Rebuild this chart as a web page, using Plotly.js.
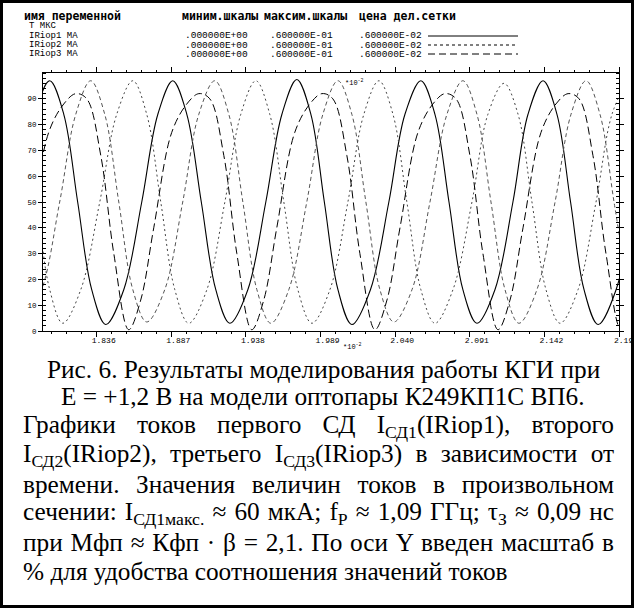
<!DOCTYPE html>
<html><head><meta charset="utf-8">
<script src="https://cdn.plot.ly/plotly-3.0.1.min.js"></script>
<style>html,body{margin:0;padding:0;background:#fff;}#chart{width:634px;height:608px;}</style>
</head><body><div id="chart"></div>
<script>
// ---- axis ticks ----
const xTickVals = [1.836, 1.887, 1.938, 1.989, 2.040, 2.091, 2.142, 2.193];
const xTickText = ["1.836", "1.887", "1.938", "1.989", "2.040", "2.091", "2.142", "2.193"];
const yTickVals = [0, 10, 20, 30, 40, 50, 60, 70, 80, 90];
const yTickText = ["0", "10", "20", "30", "40", "50", "60", "70", "80", "90"];

// ---- series (T, мкс*10^-2 ; current, % of scale) ----
const tIRiop1 = [1.7581,1.7704,1.7827,1.7936,1.8039,1.8135,1.8230,1.8326,1.8422,1.8545,1.8668,1.8778,1.8880,1.8976,1.9075,1.9174,1.9270,1.9393,1.9516,1.9626,1.9728,1.9824,1.9916,2.0009,2.0104,2.0231,2.0357,2.0467,2.0576,2.0672,2.0768,2.0863,2.0959,2.1082,2.1205,2.1308,2.1411,2.1506,2.1599,2.1691,2.1787,2.1910,2.2033];
const IRiop1  = [3,16,50,84,97,84,50,16,2.5,16,50,84,97,84,50,16,3,16,50,84,97.5,84,50,16,2.5,16,50,84,97,84,50,16,3,16,50,84,97,84,50,16,2.5,16,50];

const tIRiop2 = [1.7478,1.7574,1.7670,1.7765,1.7861,1.7984,1.8107,1.8217,1.8319,1.8415,1.8511,1.8607,1.8702,1.8825,1.8948,1.9058,1.9167,1.9263,1.9359,1.9455,1.9550,1.9673,1.9796,1.9906,2.0009,2.0104,2.0200,2.0296,2.0391,2.0515,2.0638,2.0754,2.0863,2.0959,2.1055,2.1151,2.1246,2.1369,2.1493,2.1602,2.1705,2.1800,2.1896,2.1992];
const IRiop2  = [97,84,50,16,3,16,50,84,97,84,50,16,3.5,16,50,84,97,84,50,16,3,16,50,84,97,84,50,16,3.5,16,50,84,97,84,50,16,3,16,50,84,97,84,50,16];

const tIRiop3 = [1.7546,1.7635,1.7738,1.7820,1.7909,1.8032,1.8135,1.8217,1.8292,1.8388,1.8477,1.8579,1.8661,1.8750,1.8873,1.8976,1.9058,1.9133,1.9229,1.9318,1.9420,1.9502,1.9591,1.9714,1.9817,1.9899,1.9974,2.0070,2.0159,2.0262,2.0344,2.0433,2.0556,2.0658,2.0740,2.0816,2.0911,2.1000,2.1103,2.1185,2.1274,2.1397,2.1499,2.1582,2.1657,2.1752,2.1841,2.1944,2.2026];
const IRiop3  = [68,30,0.5,12,40,77,88,92,90,68,30,0.5,12,40,77,88,92,90,68,30,0.5,12,40,77,88,92,90,68,30,0.5,12,40,77,88,92,90,68,30,0.5,12,40,77,88,92,90,68,30,0.5,12];

const tDotted = [1.7307,1.7430,1.7553,1.7663,1.7765,1.7858,1.7950,1.8039,1.8128,1.8251,1.8381,1.8497,1.8607,1.8702,1.8798,1.8894,1.8989,1.9113,1.9236,1.9345,1.9448,1.9543,1.9639,1.9735,1.9831,1.9954,2.0077,2.0186,2.0289,2.0385,2.0480,2.0576,2.0672,2.0795,2.0925,2.1034,2.1144,2.1240,2.1335,2.1431,2.1527,2.1650,2.1773,2.1882,2.1985];
const dotted  = [3,16,50,84,97,84,50,16,3,16,50,84,97,84,50,16,3,16,50,84,97,84,50,16,3,16,50,84,97,84,50,16,3,16,50,84,96,84,50,16,3,16,50,84,97];

// ---- texts ----
const headRow = ["имя переменной", "миним.шкалы", "максим.шкалы", "цена дел.сетки"];
const varNames = ["T МКС", "IRiop1 MA", "IRiop2 MA", "IRiop3 MA"];
const scaleMin = ".000000E+00";
const scaleMax = ".600000E-01";
const scaleDiv = ".600000E-02";
const captionCentered = [
  "Рис. 6. Результаты моделирования работы КГИ при",
  "Е = +1,2 В на модели оптопары К249КП1С ВП6."
];
const captionJustified = [
  "Графики токов первого СД I<sub>СД1</sub>(IRiop1), второго",
  "I<sub>СД2</sub>(IRiop2), третьего I<sub>СД3</sub>(IRiop3) в зависимости от",
  "времени. Значения величин токов в произвольном",
  "сечении: I<sub>СД1макс.</sub> ≈ 60 мкА; f<sub>Р</sub> ≈ 1,09 ГГц; τ<sub>З</sub> ≈ 0,09 нс",
  "при Мфп ≈ Кфп · β = 2,1. По оси Y введен масштаб в"
];
const captionLast = "% для удобства соотношения значений токов";

// ---- layout helpers (pixel -> paper) ----
const L = 43, R = 619, T = 73, B = 331;
const PX = p => (p - L) / (R - L);
const PY = p => (B - p) / (B - T);

const traces = [
  {x: tIRiop1, y: IRiop1, mode: 'lines', line: {color: '#000', width: 1.1, shape: 'spline'}},
  {x: tIRiop2, y: IRiop2, mode: 'lines', line: {color: '#555', width: 1, dash: '4px,3px', shape: 'spline'}},
  {x: tDotted, y: dotted, mode: 'lines', line: {color: '#444', width: 1, dash: '2px,3px', shape: 'spline'}},
  {x: tIRiop3, y: IRiop3, mode: 'lines', line: {color: '#000', width: 1, dash: '8px,4px', shape: 'spline'}}
];

const ann = [];
const mono = 'Liberation Mono';
const hx = [22, 180, 262, 357];
headRow.forEach((s, i) => ann.push({text: s, x: PX(hx[i]), y: PY(16), xref: 'paper', yref: 'paper',
  xanchor: 'left', yanchor: 'middle', showarrow: false, font: {family: 'DejaVu Sans Mono', size: 11.5, color: '#000', weight: 'bold'}}));
const rowY = [26, 36, 45, 54];
varNames.forEach((s, i) => {
  ann.push({text: s, x: PX(27), y: PY(rowY[i]), xref: 'paper', yref: 'paper', xanchor: 'left', yanchor: 'middle',
    showarrow: false, font: {family: mono, size: 9, color: '#000'}});
  if (i > 0) {
    [[scaleMin, 183], [scaleMax, 268], [scaleDiv, 357]].forEach(([t, xx]) => ann.push({text: t, x: PX(xx), y: PY(rowY[i]),
      xref: 'paper', yref: 'paper', xanchor: 'left', yanchor: 'middle', showarrow: false, font: {family: mono, size: 9.5, color: '#000'}}));
  }
});
ann.push({text: '*10<sup>-2</sup>', x: PX(352), y: PY(346), xref: 'paper', yref: 'paper', xanchor: 'center', yanchor: 'middle',
  showarrow: false, font: {family: mono, size: 7, color: '#000'}});
ann.push({text: '*10<sup>-2</sup>', x: PX(354), y: PY(83), xref: 'paper', yref: 'paper', xanchor: 'center', yanchor: 'middle',
  showarrow: false, font: {family: mono, size: 7, color: '#000'}});

const serif = {family: 'Liberation Serif', size: 25.3, color: '#000'};
const capY = [369, 396, 426, 455, 484, 513, 542, 571];
captionCentered.forEach((s, i) => ann.push({text: s, x: PX(323), y: PY(capY[i]), xref: 'paper', yref: 'paper',
  xanchor: 'center', yanchor: 'middle', showarrow: false, font: serif}));
const justStart = ann.length;
captionJustified.forEach((s, i) => ann.push({text: s, x: PX(21), y: PY(capY[i + 2]), xref: 'paper', yref: 'paper',
  xanchor: 'left', yanchor: 'middle', align: 'left', showarrow: false, font: serif}));
ann.push({text: captionLast, x: PX(21), y: PY(capY[7]), xref: 'paper', yref: 'paper', xanchor: 'left', yanchor: 'middle',
  align: 'left', showarrow: false, font: serif});

const shapes = [
  {type: 'line', xref: 'paper', yref: 'paper', x0: PX(428), x1: PX(518), y0: PY(36), y1: PY(36), line: {color: '#000', width: 1}},
  {type: 'line', xref: 'paper', yref: 'paper', x0: PX(428), x1: PX(518), y0: PY(45), y1: PY(45), line: {color: '#000', width: 1, dash: '3px,3px'}},
  {type: 'line', xref: 'paper', yref: 'paper', x0: PX(428), x1: PX(518), y0: PY(54), y1: PY(54), line: {color: '#000', width: 1, dash: '7px,4px'}},
  {type: 'rect', xref: 'paper', yref: 'paper', x0: PX(1.5), x1: PX(632.5), y0: PY(1.5), y1: PY(606.5), line: {color: '#000', width: 3}}
];

const layout = {
  width: 634, height: 608,
  margin: {l: L, r: 634 - R, t: T, b: 608 - B, pad: 0},
  paper_bgcolor: '#fff', plot_bgcolor: '#fff',
  showlegend: false, hovermode: false,
  xaxis: {range: [1.7993, 2.193], tickmode: 'array', tickvals: xTickVals, ticktext: xTickText,
    ticks: 'outside', ticklen: 5, tickwidth: 1, tickcolor: '#000', showline: true, linecolor: '#000', linewidth: 1,
    mirror: 'ticks', showgrid: false, zeroline: false, ticklabelshift: 7, ticklabelstandoff: -4,
    ticklabeloverflow: 'allow',
    tickfont: {family: mono, size: 8, color: '#000'},
    minor: {tick0: 1.836, dtick: 0.0102, ticks: 'outside', ticklen: 2, tickwidth: 1, tickcolor: '#000', showgrid: false}},
  yaxis: {range: [0, 100], tickmode: 'array', tickvals: yTickVals, ticktext: yTickText,
    ticks: 'outside', ticklen: 4, tickwidth: 1, tickcolor: '#000', showline: true, linecolor: '#000', linewidth: 1,
    mirror: 'ticks', showgrid: false, zeroline: false, ticklabelstandoff: 0,
    tickfont: {family: mono, size: 7.5, color: '#000'},
    minor: {tick0: 0, dtick: 2, ticks: 'inside', ticklen: 3, tickwidth: 1, tickcolor: '#000', showgrid: false}},
  annotations: ann,
  shapes: shapes
};

const gd = document.getElementById('chart');
Plotly.newPlot(gd, traces, layout, {staticPlot: true, displayModeBar: false}).then(() => {
  const target = 612 - 21;
  captionJustified.forEach((s, k) => {
    const el = gd.querySelector('.annotation[data-index="' + (justStart + k) + '"] text.annotation-text');
    if (!el) return;
    const w = el.getBBox().width;
    const plain = s.replace(/<[^>]+>/g, '');
    const n = (plain.match(/ /g) || []).length;
    if (n > 0) el.style.wordSpacing = ((target - w) / n).toFixed(2) + 'px';
  });
});
</script>
</body></html>
